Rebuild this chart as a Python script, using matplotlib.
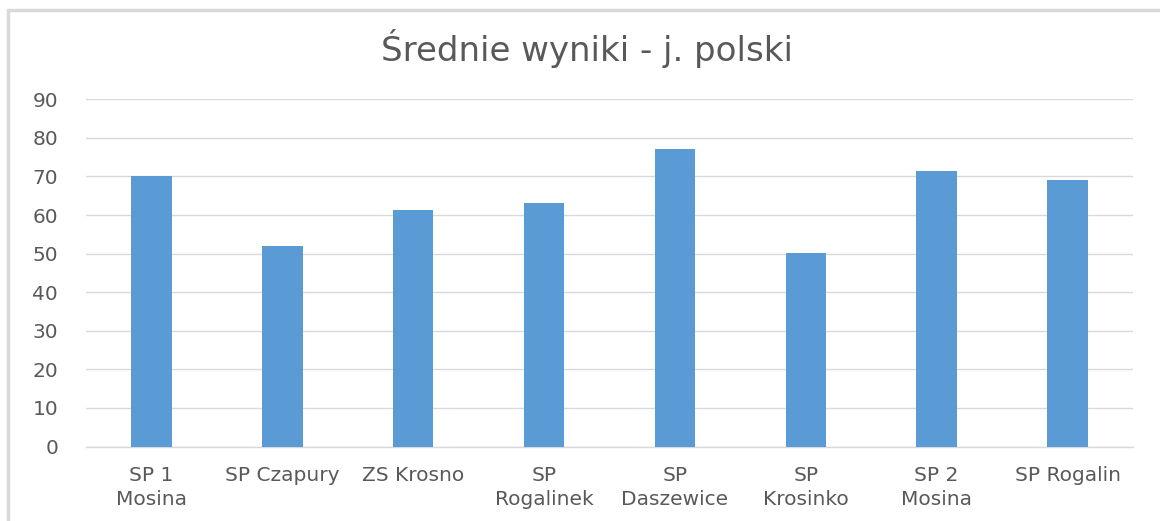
import matplotlib
matplotlib.use("Agg")
import matplotlib.pyplot as plt
from matplotlib.patches import Rectangle

categories = ["SP 1\nMosina", "SP Czapury", "ZS Krosno", "SP\nRogalinek",
              "SP\nDaszewice", "SP\nKrosinko", "SP 2\nMosina", "SP Rogalin"]
values = [70, 52, 61.3, 63, 77, 50.2, 71.4, 69.1]
yticks = [0, 10, 20, 30, 40, 50, 60, 70, 80, 90]
title = "Średnie wyniki - j. polski"

plt.rcParams['font.family'] = ['DejaVu Sans']
text_color = "#595959"

fig = plt.figure(figsize=(11.6, 5.21), dpi=100)
fig.patches.append(Rectangle((8/1160, -0.1), 1.2, (521 - 10)/521 + 0.1,
                             transform=fig.transFigure, fill=False,
                             edgecolor="#D9D9D9", linewidth=2.5))
ax = fig.add_axes([86/1160, (521-446.5)/521, (1133-86)/1160, (446.5-99.3)/521])
x = list(range(len(categories)))
ax.bar(x, values, width=0.31, color="#5B9BD5", zorder=3)
ax.set_xlim(-0.5, len(categories) - 0.5)
ax.set_ylim(0, 90)
ax.set_yticks(yticks)
ax.set_yticklabels([str(t) for t in yticks], fontsize=14.5, color=text_color)
ax.set_xticks(x)
ax.set_xticklabels(categories, fontsize=14.5, color=text_color, linespacing=1.35)
ax.tick_params(axis='both', length=0)
ax.tick_params(axis='y', pad=20)
ax.tick_params(axis='x', pad=14)
ax.grid(axis='y', color="#D9D9D9", linewidth=1, zorder=0)
for s in ["top", "right", "left"]:
    ax.spines[s].set_visible(False)
ax.spines["bottom"].set_color("#D9D9D9")
ax.spines["bottom"].set_linewidth(1)
fig.text(587/1160, 1 - 48/521, title, ha="center", va="center",
         fontsize=24.5, color=text_color)
fig.savefig("out.png", dpi=100)
